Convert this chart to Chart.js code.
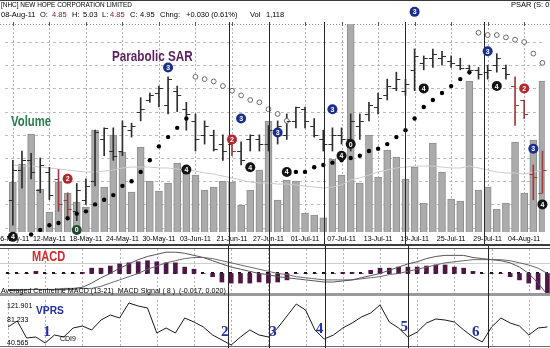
<!DOCTYPE html>
<html><head><meta charset="utf-8">
<script src="https://cdn.jsdelivr.net/npm/chart.js@4.4.1/dist/chart.umd.min.js"></script>
<style>
html,body{margin:0;padding:0;background:#fff;overflow:hidden}
#wrap{position:relative;width:550px;height:348px;overflow:hidden;background:#fff;font-family:"Liberation Sans",Arial,sans-serif;color:#000}
canvas{position:absolute;left:0}
.t{position:absolute;white-space:nowrap;line-height:1;transform-origin:0 0}
</style></head><body>
<div id="wrap">
<canvas id="cA" width="550" height="246" style="top:0;width:550px;height:246px"></canvas>
<canvas id="cB" width="550" height="50" style="top:246px;width:550px;height:50px"></canvas>
<canvas id="cC" width="550" height="52" style="top:296px;width:550px;height:52px"></canvas>
<div style="position:absolute;left:0;top:0;width:550px;height:1px;background:#3a3a3a"></div>
<div class="t" style="left:1px;top:1px;font-size:7px;transform:scaleX(0.92)">[NHC] NEW HOPE CORPORATION LIMITED</div>
<div class="t" style="left:1px;top:11px;font-size:7.5px">08-Aug-11</div>
<div class="t" style="left:40px;top:11px;font-size:7.5px">O:</div>
<div class="t" style="left:52px;top:11px;font-size:7.5px;color:#7a1d1d">4.85</div>
<div class="t" style="left:72px;top:11px;font-size:7.5px">H:</div>
<div class="t" style="left:83px;top:11px;font-size:7.5px">5.03</div>
<div class="t" style="left:102px;top:11px;font-size:7.5px">L:</div>
<div class="t" style="left:110px;top:11px;font-size:7.5px;color:#7a1d1d">4.85</div>
<div class="t" style="left:130px;top:11px;font-size:7.5px">C:</div>
<div class="t" style="left:140px;top:11px;font-size:7.5px">4.95</div>
<div class="t" style="left:160px;top:11px;font-size:7.5px">Chng:</div>
<div class="t" style="left:186px;top:11px;font-size:7.5px">+0.030 (0.61%)</div>
<div class="t" style="left:250px;top:11px;font-size:7.5px">Vol</div>
<div class="t" style="left:266px;top:11px;font-size:7.5px">1,118</div>
<div class="t" style="left:511px;top:1px;font-size:7.5px">PSAR (S: 0.02</div>
<div class="t" style="left:112px;top:48px;font-size:15px;font-weight:bold;color:#5b1f5e;transform:scaleX(0.78)">Parabolic SAR</div>
<div class="t" style="left:11px;top:114px;font-size:14px;font-weight:bold;color:#2d7a4e;transform:scaleX(0.81)">Volume</div>
<div class="t" style="left:32px;top:249px;font-size:14px;font-weight:bold;color:#d22a2a;transform:scaleX(0.79)">MACD</div>
<div class="t" style="left:1px;top:287px;font-size:7.5px;transform:scaleX(0.95)">Averaged Centreline MACD (13-21)&nbsp; MACD Signal ( 8 )&nbsp; (-0.017, 0.020)</div>
<div class="t" style="left:36px;top:305px;font-size:11px;font-weight:bold;color:#1f2fa0;transform:scaleX(0.93)">VPRS</div>
<div class="t" style="left:7px;top:302px;font-size:7px">121.901</div>
<div class="t" style="left:7px;top:316px;font-size:7px">81.233</div>
<div class="t" style="left:7px;top:339px;font-size:7px">40.565</div>
<div class="t" style="left:60px;top:335px;font-size:7px">CDI9</div>
</div>
<script>
// ---------------- DATA ----------------
const dates = ['06-May-11','09-May-11','10-May-11','11-May-11','12-May-11','13-May-11','16-May-11','17-May-11','18-May-11','19-May-11','20-May-11','23-May-11','24-May-11','25-May-11','26-May-11','27-May-11','30-May-11','31-May-11','01-Jun-11','02-Jun-11','03-Jun-11','16-Jun-11','17-Jun-11','20-Jun-11','21-Jun-11','22-Jun-11','23-Jun-11','24-Jun-11','27-Jun-11','28-Jun-11','29-Jun-11','30-Jun-11','01-Jul-11','04-Jul-11','05-Jul-11','06-Jul-11','07-Jul-11','08-Jul-11','11-Jul-11','12-Jul-11','13-Jul-11','14-Jul-11','15-Jul-11','18-Jul-11','19-Jul-11','20-Jul-11','21-Jul-11','22-Jul-11','25-Jul-11','26-Jul-11','27-Jul-11','28-Jul-11','29-Jul-11','01-Aug-11','02-Aug-11','03-Aug-11','04-Aug-11','05-Aug-11','08-Aug-11'];

const high  = [4.99,5.03,5.02,5.00,4.96,4.95,4.85,4.89,4.91,5.12, 5.13,5.13,5.16,5.15,5.26,5.28,5.31,5.35,5.31,5.24, 5.19,5.16,5.12,5.10,5.09,5.07,5.10,5.10,5.14,5.16, 5.19,5.22,5.22,5.17,5.12,5.13,5.13,5.19,5.19,5.24, 5.28,5.34,5.37,5.34,5.47,5.44,5.47,5.46,5.44,5.43, 5.40,5.39,5.40,5.45,5.40,5.35,5.25,4.97,5.03];
const low   = [4.71,4.87,4.91,4.85,4.82,4.77,4.75,4.73,4.80,4.88, 5.01,4.99,5.01,5.09,5.16,5.24,5.22,5.19,5.20,5.12, 5.03,5.06,5.03,4.99,5.01,4.97,5.03,5.03,5.03,5.06, 5.08,5.13,5.13,5.09,5.03,5.03,5.06,5.03,5.08,5.16, 5.19,5.25,5.29,5.27,5.29,5.38,5.39,5.40,5.39,5.38, 5.36,5.34,5.34,5.37,5.34,5.14,5.17,4.82,4.85];
const open  = [4.82,4.95,4.99,4.86,4.94,4.91,4.82,4.77,4.82,4.90, 5.08,5.03,5.03,5.12,5.20,5.25,5.28,5.23,5.29,5.21, 5.16,5.10,5.10,5.06,5.06,5.03,5.08,5.08,5.06,5.12, 5.10,5.16,5.21,5.14,5.08,5.06,5.10,5.08,5.14,5.19, 5.22,5.27,5.30,5.29,5.38,5.41,5.43,5.43,5.42,5.40, 5.39,5.38,5.37,5.40,5.39,5.31,5.25,4.93,4.85];
const close = [4.95,4.99,4.94,4.97,4.84,4.80,4.78,4.86,4.88,5.11, 5.13,5.01,5.14,5.14,5.21,5.27,5.30,5.34,5.27,5.19, 5.08,5.14,5.04,5.03,5.03,4.99,5.10,5.06,5.12,5.14, 5.16,5.22,5.16,5.10,5.06,5.10,5.08,5.16,5.16,5.23, 5.26,5.31,5.34,5.32,5.44,5.43,5.45,5.44,5.41,5.39, 5.38,5.36,5.38,5.43,5.36,5.23,5.19,4.92,4.95];

// Parabolic SAR: below price (long) and above price (short)
const psarLong  = [null,4.65,4.67,4.69,4.71,4.72,4.74,4.76,4.77,4.80, 4.82,4.84,4.88,4.90,4.94,4.99,5.05,5.09,5.13,5.17, null,null,null,null,null,null,null,null,null,null, null,4.94,4.94,4.96,4.97,4.98,4.99,5.00,5.01,5.03, 5.04,5.06,5.09,5.12,5.17,5.22,5.25,5.28,5.31,5.34, 5.37,null,null,null,null,null,null,null,null];
const psarShort = [null,null,null,null,null,null,null,null,null,null, null,null,null,null,null,null,null,null,null,null, 5.35,5.34,5.33,5.31,5.29,5.27,5.25,5.24,5.21,5.19, 5.16,null,null,null,null,null,null,null,null,null, null,null,null,null,null,null,null,null,null,null, null,5.54,5.53,5.53,5.52,5.51,5.50,5.45,5.41];

// Volume ('000)
const volume    = [370,503,725,318,148,370,289,222,185,755, 333,718,592,296,629,377,303,363,511,437, 422,311,333,377,370,200,311,459,821,237, 385,377,141,126,104,540,422,1600,363,718, 407,607,555,392,481,215,659,444,244,229, 1117,311,333,170,215,666,289,681,1118];
const volumeAvg = [496,488,488,481,474,466,459,451,444,444, 451,459,474,481,481,481,474,474,466,459, 451,437,429,414,400,385,370,363,363,355, 355,348,340,333,326,333,348,385,400,422, 444,459,474,481,488,488,488,481,474,474, 488,474,459,444,437,437,429,444,459];

// Averaged centreline MACD (13-21), signal (8), histogram
const macd       = [-0.016,-0.016,-0.015,-0.015,-0.015,-0.015,-0.014,-0.014,-0.013,-0.009, -0.004,0.000,0.005,0.009,0.013,0.016,0.018,0.020,0.020,0.019, 0.017,0.015,0.012,0.009,0.006,0.004,0.002,0.000,-0.001,-0.003, -0.004,-0.005,-0.006,-0.007,-0.008,-0.008,-0.007,-0.006,-0.004,-0.002, 0.000,0.003,0.006,0.009,0.011,0.014,0.016,0.017,0.017,0.017, 0.015,0.014,0.013,0.012,0.010,0.006,0.000,-0.009,-0.020];
const macdSignal = [-0.015,-0.015,-0.015,-0.015,-0.015,-0.015,-0.015,-0.015,-0.014,-0.014, -0.012,-0.009,-0.006,-0.003,0.000,0.004,0.007,0.010,0.012,0.014, 0.015,0.015,0.014,0.012,0.010,0.008,0.006,0.004,0.002,0.000, -0.001,-0.003,-0.004,-0.005,-0.006,-0.006,-0.006,-0.006,-0.005,-0.004, -0.003,-0.001,0.000,0.002,0.004,0.006,0.008,0.010,0.011,0.012, 0.013,0.013,0.013,0.013,0.012,0.010,0.008,0.005,0.000];
const macdHist   = [0,0,0,0.002,0,0,0,0,0.001,0.005, 0.005,0.007,0.009,0.010,0.011,0.012,0.011,0.010,0.010,0.006, 0.004,0,-0.003,-0.008,-0.009,-0.009,-0.009,-0.008,-0.009,-0.008, -0.006,0,0,0,0,0,0.001,0.001,0,0.003, 0.005,0.005,0.006,0.006,0.006,0.007,0.008,0.008,0.006,0.005, 0.002,0,0,0,-0.003,-0.006,-0.009,-0.015,-0.019];

// VPRS
const vprs = [74.2,84.8,54.7,56.5,45.9,60.0,56.5,72.4,75.9,68.9, 86.5,95.4,90.1,116.6,111.3,107.8,63.6,72.4,63.6,90.1, 83.0,74.2,60.0,51.2,42.3,56.5,68.9,60.0,56.5,72.4, 93.6,114.8,104.2,68.9,52.9,60.0,72.4,81.2,91.8,98.9, 113.1,83.0,72.4,56.5,65.3,81.2,88.3,86.5,83.0,68.9, 56.5,47.6,74.2,90.1,81.2,75.9,60.0,72.4,74.2];
const vprsTicks = [121.901, 81.233, 40.565];

// Signal markers (bar index, price, number, kind)
const markers = [
 {i:0,p:4.66,n:'4',c:'k'},{i:6,p:4.91,n:'2',c:'r'},{i:7,p:4.69,n:'0',c:'g'},{i:17,p:5.39,n:'3',c:'b'},
 {i:19,p:4.95,n:'4',c:'k'},{i:24,p:5.08,n:'2',c:'r'},{i:25,p:5.17,n:'3',c:'b'},{i:26,p:4.96,n:'4',c:'k'},
 {i:29,p:5.11,n:'3',c:'b'},{i:30,p:4.94,n:'4',c:'k'},{i:35,p:5.21,n:'3',c:'b'},{i:36,p:5.01,n:'4',c:'k'},
 {i:37,p:5.06,n:'0',c:'k'},{i:44,p:5.63,n:'3',c:'b'},{i:45,p:5.30,n:'4',c:'k'},{i:52,p:5.46,n:'3',c:'b'},
 {i:53,p:5.31,n:'4',c:'k'},{i:56,p:5.30,n:'2',c:'r'},{i:57,p:5.04,n:'3',c:'b'},{i:58,p:4.80,n:'4',c:'k'}
];
// Wave separators (bar-index positions) and wave counts in the VPRS pane
const waveLines = [23.65, 28.05, 34.1, 43.0, 51.6];
const waveLabels = [{i:4.2,v:65.3,n:'1'},{i:23.3,v:65.3,n:'2'},{i:28.5,v:65.3,n:'3'},{i:33.5,v:69.7,n:'4'},{i:42.6,v:74.2,n:'5'},{i:50.3,v:65.3,n:'6'}];
const priceGrid = [4.7,4.8,4.9,5.0,5.1,5.2,5.3,5.4,5.5];
const macdGrid = [-0.02,-0.01,0,0.01,0.02];

// ---------------- STYLE / HELPERS ----------------
const X_MIN = -0.86, X_MAX = 58.28;
const redBars = new Set([5,6,24,55,56,57,58]);
const markerColor = {b:'#1c2e8c', r:'#b3282d', k:'#141414', g:'#1f4a30'};
const dateTickIdx = dates.map((d,i)=>i).filter(i=>i%4===0);
const pts = arr => arr.map((v,i)=>({x:i,y:v}));
const P = v => Math.round(v)+0.5;
Chart.defaults.font.family = '"Liberation Sans", Arial, sans-serif';

function vGrid(chart, top, bottom){
  const {ctx, scales:{x}} = chart;
  ctx.save(); ctx.strokeStyle='#b4b4b4'; ctx.lineWidth=1; ctx.setLineDash([2,2]);
  dateTickIdx.forEach(i=>{const X=P(x.getPixelForValue(i)); ctx.beginPath(); ctx.moveTo(X,top); ctx.lineTo(X,bottom); ctx.stroke();});
  ctx.restore();
}
function waveSep(chart, top, bottom){
  const {ctx, scales:{x}} = chart;
  ctx.save(); ctx.strokeStyle='#262626'; ctx.lineWidth=1;
  waveLines.forEach(v=>{const X=P(x.getPixelForValue(v)); ctx.beginPath(); ctx.moveTo(X,top); ctx.lineTo(X,bottom); ctx.stroke();});
  ctx.restore();
}
function hLine(ctx, y, color, w, dash){
  ctx.save(); ctx.strokeStyle=color; ctx.lineWidth=w||1; ctx.setLineDash(dash||[]);
  ctx.beginPath(); ctx.moveTo(0,y); ctx.lineTo(550,y); ctx.stroke(); ctx.restore();
}
const xLinear = {type:'linear', min:X_MIN, max:X_MAX, offset:false, display:false};
const common = {responsive:false, animation:false, events:[], plugins:{legend:{display:false}, tooltip:{enabled:false}}};

// ---------------- PRICE / VOLUME PANE ----------------
const pricePlugin = {
  id:'pricePane',
  beforeDatasetsDraw(chart){
    const {ctx, chartArea:a, scales:{y}} = chart;
    ctx.save(); ctx.strokeStyle='#bdbdbd'; ctx.lineWidth=1; ctx.setLineDash([3,3]);
    y.ticks.forEach(t=>{const Y=P(y.getPixelForValue(t.value)); ctx.beginPath(); ctx.moveTo(a.left,Y); ctx.lineTo(a.right,Y); ctx.stroke();});
    ctx.restore();
    vGrid(chart, a.top, a.bottom);
    hLine(ctx, P(a.top), '#8a8a8a', 1, [1,2]);
    ctx.save(); ctx.strokeStyle='#555';
    dateTickIdx.forEach(i=>{const X=P(chart.scales.x.getPixelForValue(i)); ctx.beginPath(); ctx.moveTo(X,a.top-2); ctx.lineTo(X,a.top+2); ctx.stroke();});
    ctx.restore();
  },
  afterDatasetsDraw(chart){
    const {ctx, chartArea:a, scales:{x,y}} = chart;
    ctx.save(); ctx.lineWidth=1;
    for(let i=0;i<dates.length;i++){
      const X=x.getPixelForValue(i);
      ctx.strokeStyle = redBars.has(i)?'#9c3b3b':'#2e2e2e';
      const yo=P(y.getPixelForValue(open[i])), yc=P(y.getPixelForValue(close[i]));
      ctx.beginPath(); ctx.moveTo(X-4,yo); ctx.lineTo(X,yo); ctx.moveTo(X,yc); ctx.lineTo(X+4,yc); ctx.stroke();
    }
    ctx.restore();
    waveSep(chart, a.top-2, 246);
    hLine(ctx, 245, '#3c3c3c', 2);
    ctx.save();
    markers.forEach(m=>{
      const X=x.getPixelForValue(m.i), Y=y.getPixelForValue(m.p);
      ctx.beginPath(); ctx.arc(X,Y,5,0,Math.PI*2); ctx.fillStyle=markerColor[m.c]; ctx.fill();
      ctx.fillStyle='#fff'; ctx.font='bold 7px "Liberation Sans", Arial'; ctx.textAlign='center'; ctx.textBaseline='middle';
      ctx.fillText(m.n, X, Y+0.5);
    });
    ctx.restore();
  }
};

new Chart(document.getElementById('cA'), {
  type:'bar',
  data:{datasets:[
    {type:'bar', label:'Volume', data:pts(volume), yAxisID:'yVol', backgroundColor:'#ababab', borderColor:'#8e8e8e', borderWidth:1, barThickness:7, grouped:false, order:5},
    {type:'line', label:'Volume average', data:pts(volumeAvg), yAxisID:'yVol', borderColor:'#cbcbcb', borderWidth:1, pointRadius:0, order:4},
    {type:'bar', label:'High-Low', data:high.map((h,i)=>({x:i,y:[low[i],h]})), yAxisID:'y', backgroundColor:c=>redBars.has(c.dataIndex)?'#9c3b3b':'#2e2e2e', barThickness:1, grouped:false, order:3},
    {type:'line', label:'PSAR long', data:pts(psarLong), yAxisID:'y', showLine:false, pointRadius:2.2, pointBackgroundColor:'#000', pointBorderWidth:0, clip:false, order:1},
    {type:'line', label:'PSAR short', data:pts(psarShort), yAxisID:'y', showLine:false, pointRadius:2.4, pointBackgroundColor:'#fff', pointBorderColor:'#6a6a6a', pointBorderWidth:1, clip:false, order:2}
  ]},
  options:Object.assign({}, common, {
    layout:{padding:{top:24,left:0,right:0,bottom:0}},
    scales:{
      x:{type:'linear', min:X_MIN, max:X_MAX, offset:false, position:'bottom',
         afterBuildTicks:s=>{s.ticks=dateTickIdx.map(v=>({value:v}));},
         afterFit:s=>{s.height=14; s.paddingLeft=0; s.paddingRight=0;},
         ticks:{autoSkip:false, maxRotation:0, minRotation:0, padding:3, color:'#000', font:{size:7}, callback:v=>dates[v]},
         grid:{display:false, drawTicks:false}, border:{display:false}},
      y:{type:'linear', min:4.681, max:5.5776, display:false, afterBuildTicks:s=>{s.ticks=priceGrid.map(v=>({value:v}));}},
      yVol:{type:'linear', min:0, max:1540, display:false}
    }
  }),
  plugins:[pricePlugin]
});

// ---------------- MACD PANE ----------------
const macdPlugin = {
  id:'macdPane',
  beforeDatasetsDraw(chart){
    const {ctx, chartArea:a, scales:{x,y}} = chart;
    y.ticks.forEach(t=>{ if(t.value!==0) hLine(ctx, P(y.getPixelForValue(t.value)), '#cfcfcf', 1); });
    vGrid(chart, a.top, a.bottom);
    const y0 = y.getPixelForValue(0);
    ctx.save(); ctx.fillStyle='#111';
    for(let i=0;i<dates.length;i++){ const X=x.getPixelForValue(i); ctx.fillRect(Math.round(X-2), Math.round(y0-1), 3, 2); }
    ctx.restore();
  },
  afterDatasetsDraw(chart){
    const {ctx} = chart;
    hLine(ctx, 2.5, '#505050', 1);
    hLine(ctx, 47.5, '#9a9a9a', 1);
    hLine(ctx, 49, '#9a9a9a', 2);
    waveSep(chart, 0, 50);
  }
};
new Chart(document.getElementById('cB'), {
  type:'bar',
  data:{datasets:[
    {type:'line', label:'MACD', data:pts(macd), borderColor:'#555', borderWidth:1, pointRadius:0, order:1},
    {type:'line', label:'Signal', data:pts(macdSignal), borderColor:'#6a6a6a', borderWidth:1, pointRadius:0, order:2},
    {type:'bar', label:'Histogram', data:pts(macdHist), backgroundColor:'#4e1846', barThickness:4, grouped:false, order:3}
  ]},
  options:Object.assign({}, common, {
    layout:{padding:{top:3,bottom:1,left:0,right:0}},
    scales:{
      x:Object.assign({}, xLinear),
      y:{type:'linear', min:-0.0202, max:0.023, display:false, afterBuildTicks:s=>{s.ticks=macdGrid.map(v=>({value:v}));}}
    }
  }),
  plugins:[macdPlugin]
});

// ---------------- VPRS PANE ----------------
const vprsPlugin = {
  id:'vprsPane',
  beforeDatasetsDraw(chart){
    const {chartArea:a} = chart;
    vGrid(chart, a.top, a.bottom);
  },
  afterDatasetsDraw(chart){
    const {ctx, scales:{x,y}} = chart;
    hLine(ctx, 50.5, '#6a6a6a', 1);
    waveSep(chart, 0, 52);
    ctx.save(); ctx.fillStyle='#1f2fa0'; ctx.font='bold 15px "Liberation Serif", "Times New Roman", serif'; ctx.textAlign='center'; ctx.textBaseline='middle';
    waveLabels.forEach(w=>ctx.fillText(w.n, x.getPixelForValue(w.i), y.getPixelForValue(w.v)));
    ctx.restore();
  }
};
new Chart(document.getElementById('cC'), {
  type:'line',
  data:{datasets:[{label:'VPRS', data:pts(vprs), borderColor:'#1a1a1a', borderWidth:1, pointRadius:0, tension:0}]},
  options:Object.assign({}, common, {
    layout:{padding:{top:4,bottom:2,left:0,right:0}},
    scales:{
      x:Object.assign({}, xLinear),
      y:{type:'linear', min:vprsTicks[2], max:vprsTicks[0], display:false}
    }
  }),
  plugins:[vprsPlugin]
});
</script>
</body></html>
